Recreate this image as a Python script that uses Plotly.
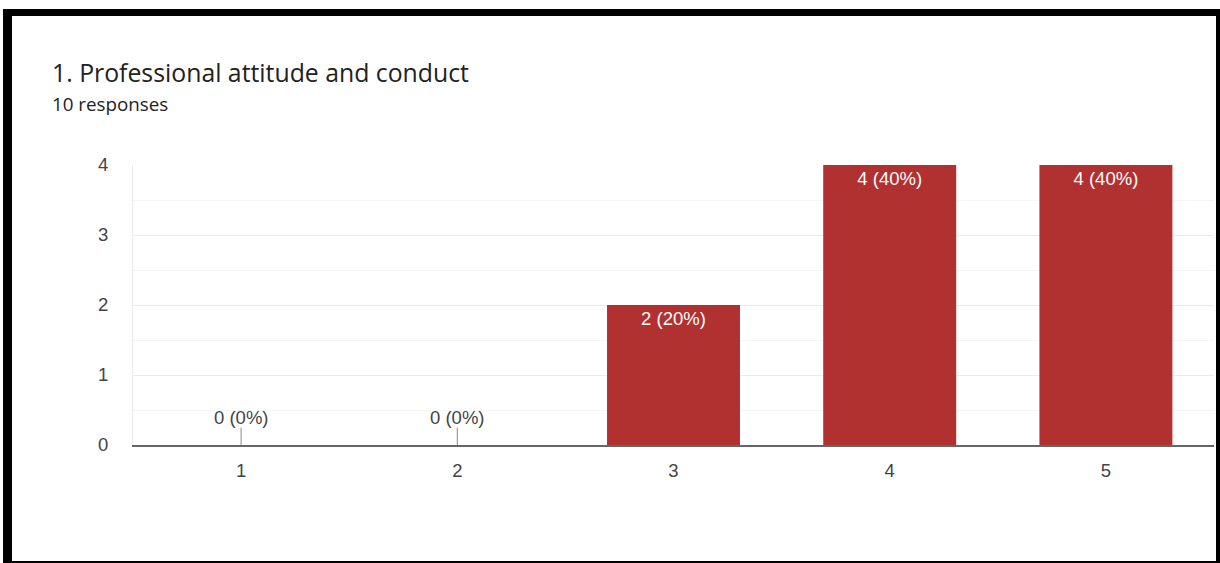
import plotly.graph_objects as go

categories = ["1", "2", "3", "4", "5"]
counts = [0, 0, 2, 4, 4]
y_ticks = [0, 1, 2, 3, 4]
title_text = "1. Professional attitude and conduct"
subtitle_text = "10 responses"

total = sum(counts)
labels = [f"{v} ({round(100 * v / total)}%)" for v in counts]

W, H = 1220, 563
L, R, T, B = 133, 6, 165, 118
PW = W - L - R
PH = H - T - B

def px_x(px):
    return (px - L) / PW

def px_y(py):
    return (H - B - py) / PH

BAR = "#b0312f"
TXT = "#444444"
FONT = "Arial, Liberation Sans, sans-serif"
FS = 18.5

fig = go.Figure()
fig.add_trace(go.Bar(
    x=categories, y=counts,
    marker=dict(color=BAR, line=dict(width=0)),
    width=0.615,
    text=[l if v > 0 else "" for l, v in zip(labels, counts)],
    textposition="inside", insidetextanchor="end",
    textfont=dict(color="white", size=FS, family=FONT),
    textangle=0,
    hoverinfo="skip",
))

shapes = []
annotations = []
for i, (v, l) in enumerate(zip(counts, labels)):
    if v == 0:
        shapes.append(dict(type="line", xref="x", yref="y", x0=i, x1=i, y0=0, y1=0.25,
                           line=dict(color="#888888", width=1)))
        annotations.append(dict(x=i, y=0, xref="x", yref="y", text=l, showarrow=False,
                                yanchor="middle", yshift=28,
                                font=dict(size=FS, color=TXT, family=FONT)))

# frame
for x0, x1, y0, y1 in [(3, 1220, 9, 16), (3, 12, 9, 563), (1216, 1220, 9, 563), (3, 1220, 561, 563)]:
    shapes.append(dict(type="rect", xref="paper", yref="paper",
                       x0=px_x(x0), x1=px_x(x1), y0=px_y(y1), y1=px_y(y0),
                       fillcolor="black", line=dict(width=0), layer="above"))

annotations.append(dict(x=px_x(50), y=px_y(72), xref="paper", yref="paper", text=title_text,
                        showarrow=False, xanchor="left", yanchor="middle",
                        font=dict(size=24.8, color="#222222", family="Open Sans, sans-serif")))
annotations.append(dict(x=px_x(50), y=px_y(104), xref="paper", yref="paper", text=subtitle_text,
                        showarrow=False, xanchor="left", yanchor="middle",
                        font=dict(size=18.8, color="#222222", family="Open Sans, sans-serif")))

fig.update_layout(
    width=W, height=H,
    margin=dict(l=L, r=R, t=T, b=B, autoexpand=False),
    paper_bgcolor="white", plot_bgcolor="white",
    showlegend=False,
    shapes=shapes, annotations=annotations,
    xaxis=dict(type="category", showgrid=False, showline=True, linecolor="#666666", linewidth=2,
               ticks="", tickfont=dict(size=FS, color=TXT, family=FONT), ticklabelstandoff=8,
               zeroline=False, range=[-0.5, 4.5]),
    yaxis=dict(range=[0, 4], tickvals=y_ticks, showgrid=True, gridcolor="#ebebeb", gridwidth=1,
               minor=dict(dtick=0.5, showgrid=True, gridcolor="#f5f5f5", gridwidth=1),
               showline=True, linecolor="#ebebeb", linewidth=1, zeroline=False,
               ticks="", tickfont=dict(size=FS, color=TXT, family=FONT), ticklabelstandoff=20),
)

fig.write_html("out.html", config={"displayModeBar": False},
               post_script="document.body.style.margin='0';document.body.style.overflow='hidden';")
